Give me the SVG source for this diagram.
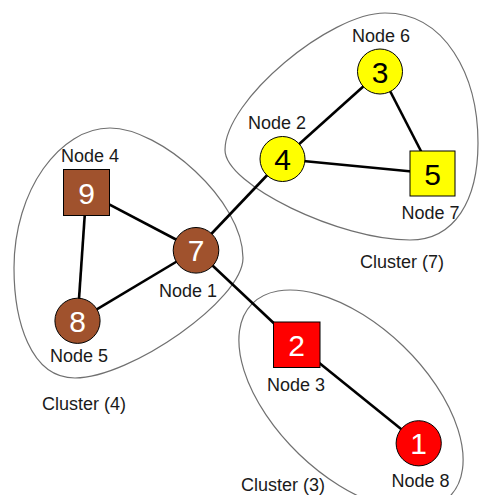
<svg xmlns="http://www.w3.org/2000/svg" width="479" height="495" viewBox="0 0 479 495">
  <style>
    .cluster { fill: none; stroke: #707070; stroke-width: 1.2; }
    .edge { stroke: #000; stroke-width: 2.6; }
    .node { stroke: #000; stroke-width: 1; }
    .yellow { fill: #ffff00; }
    .brown { fill: #a0522d; }
    .red { fill: #ff0000; }
    .num { font-family: "Liberation Sans", Arial, sans-serif; font-size: 30px; text-anchor: middle; }
    .num.dark { fill: #000; }
    .num.light { fill: #fff; }
    .label { font-family: "Liberation Sans", Arial, sans-serif; font-size: 18px; fill: #1a1a1a; text-anchor: middle; }
  </style>
  <rect width="479" height="495" fill="#fff"/>

  <!-- cluster outlines -->
  <g id="clusters">
    <path id="cluster7" class="cluster" d="M 385 13 C 445 13, 478 75, 478 143 C 478 200, 455 240, 410 240 C 340 240, 225 185, 225 150 C 225 100, 330 13, 385 13 Z"/>
    <path id="cluster4" class="cluster" d="M 110 128 C 160 128, 243 200, 243 258 C 243 300, 130 378, 75 378 C 30 378, 14 320, 14 268 C 14 190, 60 128, 110 128 Z"/>
    <ellipse id="cluster3" class="cluster" cx="351" cy="400" rx="138" ry="75" transform="rotate(44 351 400)"/>
    <text class="label" x="402" y="268">Cluster (7)</text>
    <text class="label" x="84" y="410">Cluster (4)</text>
    <text class="label" x="283" y="491">Cluster (3)</text>
  </g>

  <!-- connectors -->
  <g id="edges">
    <line class="edge" x1="380" y1="71.5" x2="282.5" y2="159"/>
    <line class="edge" x1="380" y1="71.5" x2="432.5" y2="173.5"/>
    <line class="edge" x1="282.5" y1="159" x2="432.5" y2="173.5"/>
    <line class="edge" x1="282.5" y1="159" x2="196" y2="250"/>
    <line class="edge" x1="196" y1="250" x2="86.3" y2="192.3"/>
    <line class="edge" x1="196" y1="250" x2="77.5" y2="320.8"/>
    <line class="edge" x1="86.3" y1="192.3" x2="77.5" y2="320.8"/>
    <line class="edge" x1="196" y1="250" x2="296.7" y2="344.7"/>
    <line class="edge" x1="296.7" y1="344.7" x2="418.7" y2="443.3"/>
  </g>

  <!-- nodes -->
  <g id="node6">
    <circle class="node yellow" cx="380" cy="71.5" r="22.5"/>
    <text class="num dark" x="380" y="82.5">3</text>
    <text class="label" x="381" y="42">Node 6</text>
  </g>
  <g id="node2">
    <circle class="node yellow" cx="282.5" cy="159" r="22.5"/>
    <text class="num dark" x="282.5" y="170">4</text>
    <text class="label" x="277" y="129">Node 2</text>
  </g>
  <g id="node7">
    <rect class="node yellow" x="410" y="151" width="45" height="45"/>
    <text class="num dark" x="432.5" y="184.5">5</text>
    <text class="label" x="430.5" y="219">Node 7</text>
  </g>
  <g id="node4">
    <rect class="node brown" x="63.5" y="169.5" width="46" height="46"/>
    <text class="num light" x="86.5" y="203.5">9</text>
    <text class="label" x="90" y="162">Node 4</text>
  </g>
  <g id="node1">
    <circle class="node brown" cx="196" cy="250.3" r="22.8"/>
    <text class="num light" x="196" y="261.3">7</text>
    <text class="label" x="188" y="297">Node 1</text>
  </g>
  <g id="node5">
    <circle class="node brown" cx="77.5" cy="320.8" r="22.6"/>
    <text class="num light" x="77.5" y="331.8">8</text>
    <text class="label" x="79" y="362">Node 5</text>
  </g>
  <g id="node3">
    <rect class="node red" x="273.5" y="322" width="46.5" height="45.5"/>
    <text class="num light" x="296.7" y="355.7">2</text>
    <text class="label" x="296" y="391">Node 3</text>
  </g>
  <g id="node8">
    <circle class="node red" cx="418.7" cy="443.3" r="22.6"/>
    <text class="num light" x="418.7" y="454.3">1</text>
    <text class="label" x="420.5" y="487">Node 8</text>
  </g>
</svg>
